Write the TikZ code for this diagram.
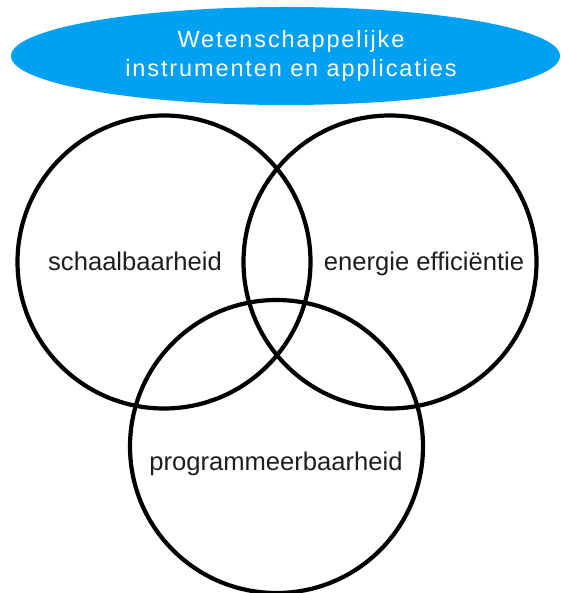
\documentclass[tikz,border=0pt]{standalone}
\usepackage{fontspec}
\setmainfont{Liberation Sans}
\newfontfamily\trackfont[LetterSpace=8]{Liberation Sans}
\usetikzlibrary{shapes.geometric}
\definecolor{skyblue}{RGB}{0,160,242}
\definecolor{inkgray}{RGB}{30,30,30}
\tikzset{
  ring/.style={circle, draw=black, line width=4.2pt, minimum size=293pt, inner sep=0pt},
  ringlabel/.style={anchor=base, inner sep=0pt, text=inkgray,
    font=\fontsize{25.6}{30}\selectfont},
  banner/.style={ellipse, fill=skyblue, minimum width=549pt, minimum height=98pt, inner sep=0pt},
  bannertext/.style={anchor=base, inner sep=0pt, text=white,
    font=\trackfont\fontsize{23.5}{28}\selectfont}
}
\begin{document}
\begin{tikzpicture}[x=1pt, y=-1pt]
  \useasboundingbox (0,0) rectangle (561,593);
  % title banner
  \node[banner] (top) at (285.5,56) {};
  \node[bannertext] (t1) at (291,48) {Wetenschappelijke};
  \node[bannertext] (t2) at (291,77) {instrumenten en applicaties};
  % three overlapping circles
  \node[ring] (L) at (164,262) {};
  \node[ring] (R) at (390,262) {};
  \node[ring] (B) at (276.5,446.5) {};
  % labels
  \node[ringlabel] (lL) at (135,270) {schaalbaarheid};
  \node[ringlabel] (lR) at (424,270) {energie efficiëntie};
  \node[ringlabel] (lB) at (276,470) {programmeerbaarheid};
\end{tikzpicture}
\end{document}
